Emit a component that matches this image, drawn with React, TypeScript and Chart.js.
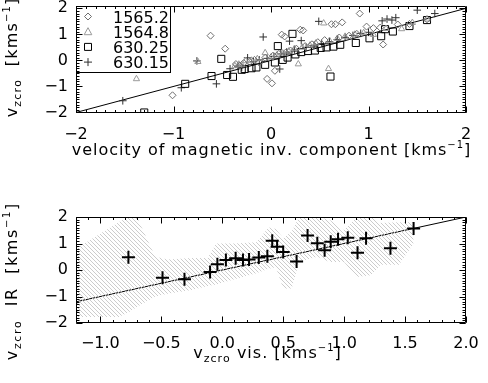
import React, { useEffect, useRef } from "react";
import { Chart, registerables } from "chart.js";

Chart.register(...registerables);

const FONT_FAMILY = "'DejaVu Sans', 'Liberation Sans', sans-serif";

// ---------- Top panel data ----------
const legendLabels = ["1565.2", "1564.8", "630.25", "630.15"];

const pts1565_2: [number, number][] = [
  [-1.01, -1.34], [-0.62, 0.95], [-0.47, 0.45], [-0.36, -0.14], [-0.32, -0.2], [-0.28, -0.1],
  [-0.22, -0.05], [-0.17, 0.02], [-0.12, -0.08], [-0.06, 0.1], [-0.04, -0.71], [0.01, -0.88],
  [0.04, -0.4], [0.02, 0.18], [0.08, 0.25], [0.11, 0.99], [0.14, 0.92], [0.15, 0.3], [0.2, 0.38],
  [0.26, 0.45], [0.3, 1.18], [0.33, 1.15], [0.35, 0.55], [0.42, 0.62], [0.48, 0.7], [0.55, 0.78],
  [0.62, 1.39], [0.66, 1.39], [0.73, 1.46], [0.7, 0.88], [0.8, 0.95], [0.88, 1.02], [0.91, 1.8],
  [0.98, 1.3], [1.05, 1.24], [1.12, 1.26], [1.15, 0.61], [1.3, 1.38], [1.42, 1.4], [1.6, 1.58],
];

const pts1564_8: [number, number][] = [
  [-1.38, -0.71], [-0.75, -0.05], [-0.37, -0.21], [-0.33, -0.15], [-0.3, -0.17], [-0.26, -0.02],
  [-0.2, 0.0], [-0.14, 0.06], [-0.06, 0.29], [0.0, 0.12], [0.06, 0.2], [0.12, 0.28], [0.18, 0.35],
  [0.28, -0.14], [0.24, 0.45], [0.32, 0.5], [0.4, 0.58], [0.46, 0.66], [0.54, 1.43], [0.59, -0.32],
  [0.6, 0.76], [0.68, 0.84], [0.76, 0.92], [0.86, 1.0], [0.95, 1.06], [1.05, 0.99], [1.18, 1.22],
  [1.34, 1.21], [1.45, 1.45], [1.6, 1.58],
];

const pts630_25: [number, number][] = [
  [-1.3, -2.0], [-0.88, -0.9], [-0.61, -0.6], [-0.51, 0.06], [-0.45, -0.56], [-0.39, -0.63],
  [-0.3, -0.36], [-0.27, -0.33], [-0.2, -0.3], [-0.15, -0.27], [-0.06, -0.17], [0.04, -0.08],
  [0.07, 0.55], [0.12, 0.02], [0.17, 0.11], [0.22, 1.02], [0.25, 0.23], [0.31, 0.32], [0.38, 0.36],
  [0.45, 0.38], [0.51, 0.48], [0.57, 0.5], [0.61, -0.62], [0.64, 0.53], [0.71, 0.6], [0.87, 0.67],
  [1.01, 0.85], [1.13, 0.93], [1.17, 1.2], [1.25, 1.11], [1.42, 1.32], [1.6, 1.55],
];

const pts630_15: [number, number][] = [
  [-1.52, -1.55], [-0.92, -1.05], [-0.76, -0.02], [-0.56, -0.9], [-0.42, -0.32], [-0.34, -0.22],
  [-0.3, -0.27], [-0.24, 0.1], [-0.18, -0.05], [-0.12, 0.02], [-0.08, 0.9], [-0.04, 0.08],
  [0.03, 0.15], [0.09, -0.33], [0.1, 0.25], [0.16, 0.32], [0.19, 0.74], [0.24, 0.4], [0.31, 0.76],
  [0.36, 0.5], [0.44, 0.58], [0.49, 1.5], [0.52, 0.65], [0.6, 0.72], [0.68, 0.8], [0.76, 0.88],
  [0.84, 0.96], [0.92, 1.04], [1.0, 1.08], [1.14, 1.52], [1.19, 1.59], [1.24, 1.55], [1.28, 1.64],
  [1.5, 1.93], [1.68, 1.8],
];

const diagX = [-2, 2];
const diagY = [-2, 2];

// ---------- Bottom panel data ----------
const visX = [-0.77, -0.49, -0.31, -0.1, -0.04, 0.03, 0.11, 0.17, 0.22, 0.3, 0.37, 0.41, 0.45, 0.5, 0.61, 0.7, 0.78, 0.84, 0.89, 0.95, 1.03, 1.11, 1.18, 1.38, 1.57];
const irY = [0.48, -0.29, -0.35, -0.08, 0.22, 0.38, 0.44, 0.38, 0.4, 0.47, 0.52, 1.1, 0.88, 0.68, 0.32, 1.3, 1.01, 0.75, 1.07, 1.16, 1.22, 0.65, 1.2, 0.82, 1.57];

const bandX = [-1.2, -0.85, -0.77, -0.7, -0.55, -0.45, -0.25, -0.12, -0.05, 0.1, 0.28, 0.38, 0.44, 0.5, 0.57, 0.63, 0.78, 0.88, 1.0, 1.1, 1.22, 1.3, 1.45, 1.57];
const bandUpper = [0.8, 1.8, 2.0, 2.0, 0.5, 0.4, 0.45, 0.45, 1.0, 1.0, 1.05, 1.6, 1.55, 1.2, 1.45, 2.0, 2.0, 1.9, 1.5, 2.0, 2.0, 1.77, 1.8, 1.8];
const bandLower = [-1.77, -1.77, -1.6, -1.4, -1.0, -0.9, -0.75, -0.6, -0.55, -0.35, -0.12, 0.05, 0.1, -0.7, -0.7, 0.3, 0.5, 0.3, 0.3, -0.26, -0.2, 0.2, 0.2, 1.0];

const fitX = [-1.2, 2.0];
const fitY = [-1.2, 2.0];

// ---------- helpers ----------
const minus = (s: string) => s.replace(/-/g, "\u2212");

type Piece = { t: string; size: number; dy?: number };

function drawRich(ctx: CanvasRenderingContext2D, pieces: Piece[], cx: number, by: number, ls: number) {
  let w = 0;
  for (const p of pieces) {
    ctx.font = `${p.size}px ${FONT_FAMILY}`;
    for (const ch of p.t) w += ctx.measureText(ch).width + ls;
  }
  w -= ls;
  let x = cx - w / 2;
  ctx.textAlign = "left";
  ctx.textBaseline = "alphabetic";
  for (const p of pieces) {
    ctx.font = `${p.size}px ${FONT_FAMILY}`;
    for (const ch of p.t) {
      ctx.fillText(ch, x, by + (p.dy || 0));
      x += ctx.measureText(ch).width + ls;
    }
  }
}

function titlesPlugin(xTitle: Piece[], xCx: number, xBy: number, xLs: number, yTitle: Piece[], yCy: number, yBx: number, yLs: number) {
  return {
    id: "axisTitles",
    afterDraw(chart: any) {
      const ctx = chart.ctx as CanvasRenderingContext2D;
      ctx.save();
      ctx.fillStyle = "#000";
      drawRich(ctx, xTitle, xCx, xBy, xLs);
      ctx.translate(yBx, yCy);
      ctx.rotate(-Math.PI / 2);
      drawRich(ctx, yTitle, 0, 0, yLs);
      ctx.restore();
    },
  };
}

function frameTicksPlugin(minorX: number, minorY: number) {
  return {
    id: "frameTicks",
    afterDraw(chart: any) {
      const { ctx, chartArea: a } = chart;
      const xs = chart.scales.x;
      const ys = chart.scales.y;
      ctx.save();
      ctx.strokeStyle = "#000";
      ctx.lineWidth = 1;
      ctx.beginPath();
      const L = a.left + 0.5, R = a.right - 0.5, T = a.top + 0.5, B = a.bottom - 0.5;
      ctx.rect(L, T, R - L, B - T);
      const vx = (v: number, len: number) => {
        const p = Math.round(xs.getPixelForValue(v)) + 0.5;
        ctx.moveTo(p, B); ctx.lineTo(p, B - len);
        ctx.moveTo(p, T); ctx.lineTo(p, T + len);
      };
      const vy = (v: number, len: number) => {
        const p = Math.round(ys.getPixelForValue(v)) + 0.5;
        ctx.moveTo(L, p); ctx.lineTo(L + len, p);
        ctx.moveTo(R, p); ctx.lineTo(R - len, p);
      };
      for (let k = Math.ceil(xs.min / minorX - 1e-6); k * minorX <= xs.max + 1e-6; k++) vx(k * minorX, 2.5);
      for (let k = Math.ceil(ys.min / minorY - 1e-6); k * minorY <= ys.max + 1e-6; k++) vy(k * minorY, 3);
      xs.ticks.forEach((t: any) => vx(t.value, 6));
      ys.ticks.forEach((t: any) => vy(t.value, 6));
      ctx.stroke();
      ctx.restore();
    },
  };
}

type Sym = { style: string; color: string };
const legendSyms: Sym[] = [
  { style: "rectRot", color: "#6e6e6e" },
  { style: "triangle", color: "#9a9a9a" },
  { style: "rect", color: "#000000" },
  { style: "cross", color: "#303030" },
];

function drawSym(ctx: CanvasRenderingContext2D, s: Sym, x: number, y: number) {
  ctx.strokeStyle = s.color;
  ctx.lineWidth = 1;
  ctx.beginPath();
  if (s.style === "rectRot") {
    ctx.moveTo(x, y - 3.5); ctx.lineTo(x + 3.5, y); ctx.lineTo(x, y + 3.5); ctx.lineTo(x - 3.5, y); ctx.closePath();
  } else if (s.style === "triangle") {
    ctx.moveTo(x, y - 4); ctx.lineTo(x + 3.8, y + 3); ctx.lineTo(x - 3.8, y + 3); ctx.closePath();
  } else if (s.style === "rect") {
    ctx.rect(x - 3.5, y - 3.5, 7, 7);
  } else {
    ctx.moveTo(x - 4, y); ctx.lineTo(x + 4, y); ctx.moveTo(x, y - 4); ctx.lineTo(x, y + 4);
  }
  ctx.stroke();
}

const legendPlugin = {
  id: "boxLegend",
  afterDatasetsDraw(chart: any) {
    const ctx = chart.ctx as CanvasRenderingContext2D;
    const a = chart.chartArea;
    const x0 = a.left, y0 = a.top, w = 94, h = 66;
    ctx.save();
    ctx.fillStyle = "#fff";
    ctx.fillRect(x0, y0, w, h);
    ctx.strokeStyle = "#000";
    ctx.lineWidth = 1;
    ctx.strokeRect(x0 + 0.5, y0 + 0.5, w, h);
    legendLabels.forEach((lab, i) => {
      const cy = y0 + 10.5 + i * 15.2;
      drawSym(ctx, legendSyms[i], x0 + 12, cy);
      ctx.fillStyle = "#000";
      ctx.font = `16px ${FONT_FAMILY}`;
      ctx.textAlign = "left";
      ctx.textBaseline = "alphabetic";
      ctx.fillText(lab, x0 + 37, cy + 6);
    });
    ctx.restore();
  },
};

function axisCommon(min: number, max: number, step: number, fmt: (v: number) => string, isX: boolean, size: number, pad: number) {
  return {
    type: "linear" as const,
    min,
    max,
    grid: { display: false, drawTicks: false },
    border: { display: false },
    ticks: {
      stepSize: step,
      includeBounds: false,
      autoSkip: false,
      maxRotation: 0,
      padding: pad,
      color: "#000",
      font: { family: FONT_FAMILY, size: 16 },
      callback: (v: any) => fmt(Number(v)),
    },
    afterFit: (s: any) => {
      if (isX) s.height = size; else s.width = size;
      s.paddingTop = 0; s.paddingBottom = 0; s.paddingLeft = 0; s.paddingRight = 0;
    },
  };
}

function makePattern(): CanvasPattern | string {
  const c = document.createElement("canvas");
  c.width = 4; c.height = 4;
  const g = c.getContext("2d");
  if (!g) return "#ddd";
  g.strokeStyle = "#c6c6c6";
  g.lineWidth = 0.9;
  g.beginPath();
  g.moveTo(-1, -1); g.lineTo(5, 5);
  g.moveTo(-1, 3); g.lineTo(1, 5);
  g.moveTo(3, -1); g.lineTo(5, 1);
  g.stroke();
  const p = g.createPattern(c, "repeat");
  return p || "#ddd";
}

const toXY = (arr: [number, number][]) => arr.map(([x, y]) => ({ x, y }));

function TopPanel() {
  const ref = useRef<HTMLCanvasElement>(null);
  useEffect(() => {
    if (!ref.current) return;
    const mk = (data: [number, number][], style: string, r: number, color: string, label: string) => ({
      type: "scatter" as const,
      label,
      data: toXY(data),
      pointStyle: style,
      pointRadius: r,
      pointBorderWidth: 1,
      pointBorderColor: color,
      pointBackgroundColor: "rgba(0,0,0,0)",
      borderColor: color,
      backgroundColor: "rgba(0,0,0,0)",
      order: 1,
    });
    const chart = new Chart(ref.current, {
      type: "scatter",
      data: {
        datasets: [
          mk(pts1565_2, "rectRot", 3.5, legendSyms[0].color, legendLabels[0]),
          mk(pts1564_8, "triangle", 3.6, legendSyms[1].color, legendLabels[1]),
          mk(pts630_25, "rect", 5, legendSyms[2].color, legendLabels[2]),
          mk(pts630_15, "cross", 3.8, legendSyms[3].color, legendLabels[3]),
          {
            type: "line" as const,
            label: "fit",
            data: diagX.map((x, i) => ({ x, y: diagY[i] })),
            borderColor: "#000",
            borderWidth: 1,
            pointRadius: 0,
            fill: false,
            order: 5,
          } as any,
        ],
      },
      options: {
        animation: false,
        responsive: false,
        events: [],
        layout: { padding: { top: 4, right: 22, bottom: 0, left: 0 } },
        plugins: { legend: { display: false }, tooltip: { enabled: false } },
        scales: {
          x: axisCommon(-2, 2, 1, (v) => minus(String(v)), true, 77, 12),
          y: axisCommon(-2.02, 2.09, 1, (v) => minus(String(v)), false, 76, 8),
        },
      } as any,
      plugins: [
        legendPlugin,
        frameTicksPlugin(0.1, 0.1),
        titlesPlugin(
          [
            { t: "velocity of magnetic inv. component [kms", size: 16 },
            { t: "\u22121", size: 10, dy: -7 },
            { t: "]", size: 16 },
          ],
          271, 155, 0.95,
          [
            { t: "v", size: 16 },
            { t: "zcro", size: 11, dy: 4 },
            { t: "  [kms", size: 16 },
            { t: "\u22121", size: 10, dy: -7 },
            { t: "]", size: 16 },
          ],
          58, 17, 1.2
        ),
      ],
    });
    return () => chart.destroy();
  }, []);
  return <canvas ref={ref} width={488} height={190} style={{ position: "absolute", left: 0, top: 0, display: "block" }} />;
}

function BottomPanel() {
  const ref = useRef<HTMLCanvasElement>(null);
  useEffect(() => {
    if (!ref.current) return;
    const pattern = makePattern();
    const chart = new Chart(ref.current, {
      type: "scatter",
      data: {
        datasets: [
          {
            type: "scatter" as const,
            label: "IR vs vis",
            data: visX.map((x, i) => ({ x, y: irY[i] })),
            pointStyle: "cross",
            pointRadius: 6.5,
            pointBorderWidth: 2,
            pointBorderColor: "#000",
            borderColor: "#000",
            order: 0,
          },
          {
            type: "line" as const,
            label: "band lower",
            data: bandX.map((x, i) => ({ x, y: bandLower[i] })),
            borderColor: "rgba(0,0,0,0)",
            pointRadius: 0,
            fill: false,
            order: 1,
          },
          {
            type: "line" as const,
            label: "band upper",
            data: bandX.map((x, i) => ({ x, y: bandUpper[i] })),
            borderColor: "rgba(0,0,0,0)",
            backgroundColor: pattern,
            pointRadius: 0,
            fill: "-1",
            order: 1,
          },
          {
            type: "line" as const,
            label: "fit",
            data: fitX.map((x, i) => ({ x, y: fitY[i] })),
            borderColor: "#000",
            borderWidth: 1,
            pointRadius: 0,
            fill: false,
            order: 2,
          },
        ] as any,
      },
      options: {
        animation: false,
        responsive: false,
        events: [],
        layout: { padding: { top: 27, right: 22, bottom: 0, left: 0 } },
        plugins: { legend: { display: false }, tooltip: { enabled: false } },
        scales: {
          x: axisCommon(-1.2, 2.0, 0.5, (v) => minus(v.toFixed(1)), true, 60, 11),
          y: axisCommon(-2, 2, 1, (v) => minus(String(v)), false, 76, 8),
        },
      } as any,
      plugins: [
        frameTicksPlugin(0.1, 0.1),
        titlesPlugin(
          [
            { t: "v", size: 16 },
            { t: "zcro", size: 11, dy: 4 },
            { t: " vis. [kms", size: 16 },
            { t: "\u22121", size: 10, dy: -7 },
            { t: "]", size: 16 },
          ],
          267, 168, 1.0,
          [
            { t: "v", size: 16 },
            { t: "zcro", size: 11, dy: 4 },
            { t: "  IR  [kms", size: 16 },
            { t: "\u22121", size: 10, dy: -7 },
            { t: "]", size: 16 },
          ],
          92, 17, 1.6
        ),
      ],
    });
    return () => chart.destroy();
  }, []);
  return <canvas ref={ref} width={488} height={193} style={{ position: "absolute", left: 0, top: 190, display: "block" }} />;
}

export default function App() {
  return (
    <div style={{ position: "fixed", left: 0, top: 0, width: 488, height: 383, background: "#fff", overflow: "hidden" }}>
      <TopPanel />
      <BottomPanel />
    </div>
  );
}
